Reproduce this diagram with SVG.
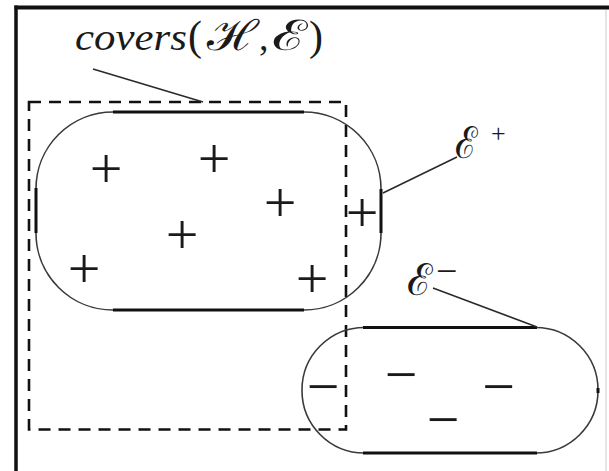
<svg xmlns="http://www.w3.org/2000/svg" width="609" height="471" viewBox="0 0 609 471">
<style>
.arc{fill:none;stroke:#3a3a3a;stroke-width:1.6}
.flat{fill:none;stroke:#111;stroke-width:3}
.dash{fill:none;stroke:#111;stroke-width:2.6;stroke-dasharray:12 8}
.lead{fill:none;stroke:#2a2a2a;stroke-width:1.6}
.mark{font-family:"Liberation Serif",serif;font-size:58px;fill:#1a1a1a;text-anchor:middle}
.lab{font-family:"Liberation Serif","DejaVu Serif",serif;fill:#1a1a1a}
.it{font-style:italic}
.scr{font-family:"DejaVu Serif","Liberation Serif",serif}
</style>
<g id="frame">
<line x1="16" y1="5.5" x2="16" y2="471" stroke="#111" stroke-width="3.5"/>
<line x1="14.5" y1="7.5" x2="609" y2="7.5" stroke="#111" stroke-width="4"/>
<line x1="606" y1="10" x2="606" y2="471" stroke="#ddd" stroke-width="1.5"/>
</g>
<g id="covers-box">
<rect class="dash" x="29" y="102" width="317" height="327.5"/>
</g>
<g id="positive-set">
<rect class="arc" x="36" y="112" width="345" height="198" rx="77" ry="77"/>
<line class="flat" x1="113" y1="112" x2="304" y2="112"/>
<line class="flat" x1="113" y1="310" x2="304" y2="310"/>
<line class="flat" x1="36" y1="188" x2="36" y2="233"/>
<line class="flat" x1="381" y1="189" x2="381" y2="233"/>
<text class="mark" x="106" y="188">+</text>
<text class="mark" x="214" y="178">+</text>
<text class="mark" x="280" y="222">+</text>
<text class="mark" x="182" y="254">+</text>
<text class="mark" x="84" y="288">+</text>
<text class="mark" x="312" y="298">+</text>
<text class="mark" x="362" y="232">+</text>
</g>
<g id="negative-set">
<rect class="arc" x="302" y="327.5" width="296" height="125.5" rx="62.5" ry="62.5"/>
<line class="flat" x1="363" y1="327.5" x2="537" y2="327.5"/>
<line class="flat" x1="363" y1="453" x2="537" y2="453"/>
<line class="flat" x1="598" y1="388" x2="598" y2="393"/>
<text class="mark" x="323" y="406">−</text>
<text class="mark" x="401" y="394">−</text>
<text class="mark" x="498.5" y="406">−</text>
<text class="mark" x="443" y="439">−</text>
</g>
<g id="label-covers">
<text class="lab" y="50" font-size="38"><tspan class="it" x="75" textLength="112" lengthAdjust="spacingAndGlyphs">covers</tspan><tspan x="188" font-size="42">(</tspan><tspan class="scr" x="207" font-size="42" textLength="51" lengthAdjust="spacingAndGlyphs">ℋ</tspan><tspan x="259">,</tspan><tspan class="scr" x="272" font-size="42" textLength="35" lengthAdjust="spacingAndGlyphs">ℰ</tspan><tspan x="309" font-size="42">)</tspan></text>
</g>
<g id="label-eplus">
<text class="lab" y="158" font-size="44"><tspan class="scr" x="455" textLength="23" lengthAdjust="spacingAndGlyphs">ℰ</tspan><tspan x="491" y="142" font-size="26">+</tspan></text>
</g>
<g id="label-eminus">
<text class="lab" y="295" font-size="44"><tspan class="scr" x="407" textLength="26" lengthAdjust="spacingAndGlyphs">ℰ</tspan><tspan x="436" y="284" font-size="38">−</tspan></text>
</g>
<g id="connectors">
<line class="lead" x1="93" y1="69" x2="203" y2="102"/>
<line class="lead" x1="383" y1="193" x2="457" y2="157"/>
<line class="lead" x1="433" y1="288" x2="537" y2="327"/>
</g>
</svg>
